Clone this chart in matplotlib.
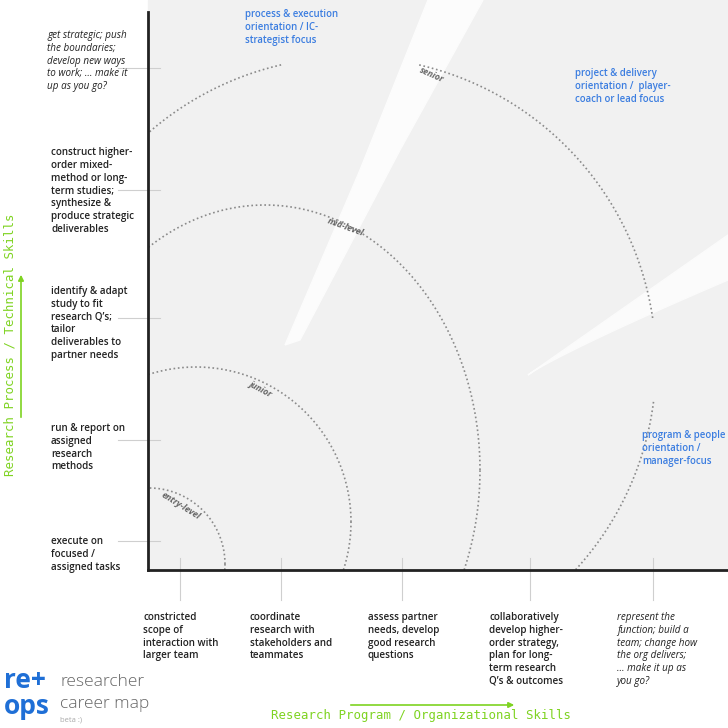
import numpy as np
import matplotlib
matplotlib.use("Agg")
import matplotlib.pyplot as plt
from matplotlib.patches import Polygon, Rectangle

# ---- data ----
left_labels = [
    "get strategic; push\nthe boundaries;\ndevelop new ways\nto work; \u2026 make it\nup as you go?",
    "construct higher-\norder mixed-\nmethod or long-\nterm studies;\nsynthesize &\nproduce strategic\ndeliverables",
    "identify & adapt\nstudy to fit\nresearch Q\u2019s;\ntailor\ndeliverables to\npartner needs",
    "run & report on\nassigned\nresearch\nmethods",
    "execute on\nfocused /\nassigned tasks",
]
left_tick_y = [68, 190, 318, 440, 541]
left_text_top = [30, 147, 286, 423, 536]
left_italic = [True, False, False, False, False]

bottom_labels = [
    "constricted\nscope of\ninteraction with\nlarger team",
    "coordinate\nresearch with\nstakeholders and\nteammates",
    "assess partner\nneeds, develop\ngood research\nquestions",
    "collaboratively\ndevelop higher-\norder strategy,\nplan for long-\nterm research\nQ\u2019s & outcomes",
    "represent the\nfunction; build a\nteam; change how\nthe org delivers;\n\u2026 make it up as\nyou go?",
]
bottom_tick_x = [180, 281, 402, 530, 653]
bottom_text_x = [143, 250, 368, 489, 617]
bottom_italic = [False, False, False, False, True]

levels = ["entry-level", "junior", "mid-level", "senior"]
# ellipse center x, center y, radius x, radius y (pixel space)
arc_cx = [149, 196, 265, 350]
arc_cy = [564, 522, 470, 363]
arc_rx = [76, 155, 215, 306]
arc_ry = [76, 155, 265, 306]
arc_label_xy = [(181, 506), (260, 389), (346, 227), (432, 75)]
arc_label_rot = [-32, -28, -20, -24]

focus_labels = [
    "process & execution\norientation / IC-\nstrategist focus",
    "project & delivery\norientation /  player-\ncoach or lead focus",
    "program & people\norientation /\nmanager-focus",
]
focus_xy = [(245, 9), (575, 68), (642, 430)]

# ---- figure ----
fig = plt.figure(figsize=(7.28, 7.28), dpi=100)
ax = fig.add_axes([0, 0, 1, 1])
ax.set_xlim(0, 728)
ax.set_ylim(728, 0)
ax.axis("off")

OX, OY = 148, 570
ax.add_patch(Rectangle((OX, 0), 728 - OX, OY, color="#f1f1f1", zorder=0))
# soft white swooshes
ax.add_patch(Polygon([(428, 0), (483, 0), (400, 150), (300, 340), (285, 345), (360, 170)],
                     color="#fcfcfc", zorder=0.5))
t = np.linspace(0, 1, 40)
upper = np.column_stack([728 - 200 * t, 235 + 140 * t])
lower = np.column_stack([528 + 200 * t, 375 - 95 * t ** 0.9])
ax.add_patch(Polygon(np.vstack([upper, lower]), color="#fbfbfb", zorder=0.5))

# axes lines
ax.plot([OX, OX], [12, OY], color="#222222", lw=2, zorder=3)
ax.plot([OX, 728], [OY, OY], color="#222222", lw=2, zorder=3)

font = "Open Sans"
txtc = "#222222"
FS = 7.1
for y in left_tick_y:
    ax.plot([118, 160], [y, y], color="#cfcfcf", lw=0.8, zorder=2)
for lab, ytop, it in zip(left_labels, left_text_top, left_italic):
    ax.text(51 if not it else 47, ytop, lab, fontsize=FS, family=font,
            weight="normal" if it else "semibold",
            style="italic" if it else "normal", color=txtc, va="top", ha="left", linespacing=1.22)
for x in bottom_tick_x:
    ax.plot([x, x], [558, 600], color="#cfcfcf", lw=0.8, zorder=2)
for lab, x, it in zip(bottom_labels, bottom_text_x, bottom_italic):
    ax.text(x, 612, lab, fontsize=FS, family=font, weight="normal" if it else "semibold",
            style="italic" if it else "normal", color=txtc, va="top", ha="left", linespacing=1.22)

# arcs
for cx, cy, rx, ry, lab, (lx, ly), rot in zip(arc_cx, arc_cy, arc_rx, arc_ry, levels,
                                               arc_label_xy, arc_label_rot):
    th = np.linspace(0, 2 * np.pi, 2000)
    xs = cx + rx * np.cos(th)
    ys = cy - ry * np.sin(th)
    m = (xs >= OX) & (ys <= OY)
    xs = np.where(m, xs, np.nan)
    ys = np.where(m, ys, np.nan)
    if lab == "senior":
        ys = np.where((xs > 282) & (xs < 418) & (ys < 120), np.nan, ys)
        ys = np.where((xs > 640) & (ys > 318) & (ys < 400), np.nan, ys)
    ax.plot(xs, ys, color="#8a8a8a", lw=1.2, ls=(0, (1, 1.6)), zorder=2)
    ax.text(lx, ly, lab, fontsize=6.3, family=font, weight="bold", style="italic",
            color="#666666", rotation=rot, ha="center", va="center", zorder=4)

for lab, (x, y) in zip(focus_labels, focus_xy):
    ax.text(x, y, lab, fontsize=6.9, family=font, weight="semibold", color="#3b7de0",
            va="top", ha="left", linespacing=1.25, zorder=4)

green = "#7ed321"
ax.text(421, 716, "Research Program / Organizational Skills", family="DejaVu Sans Mono",
        fontsize=8.9, color=green, ha="center", va="center")
ax.annotate("", xy=(517, 705), xytext=(348, 705),
            arrowprops=dict(arrowstyle="-|>", color=green, lw=1.2, mutation_scale=8))
ax.text(10, 345, "Research Process / Technical Skills", family="DejaVu Sans Mono",
        fontsize=8.9, color=green, ha="center", va="center", rotation=90)
ax.annotate("", xy=(21, 272), xytext=(21, 420),
            arrowprops=dict(arrowstyle="-|>", color=green, lw=1.2, mutation_scale=8))

# logo
ax.text(4, 681, "re+", fontsize=19, family="Open Sans", weight="bold", color="#1f6fd6", va="center")
ax.text(4, 706, "ops", fontsize=19, family="Open Sans", weight="bold", color="#1f6fd6", va="center")
ax.text(60, 682, "researcher", fontsize=12.5, family="Open Sans", weight="light", color="#666666", va="center")
ax.text(60, 704, "career map", fontsize=12.5, family="Open Sans", weight="light", color="#666666", va="center")
ax.text(60, 720, "beta :)", fontsize=5.5, family="Open Sans", color="#aaaaaa", va="center")

fig.savefig("out.png", dpi=100)
